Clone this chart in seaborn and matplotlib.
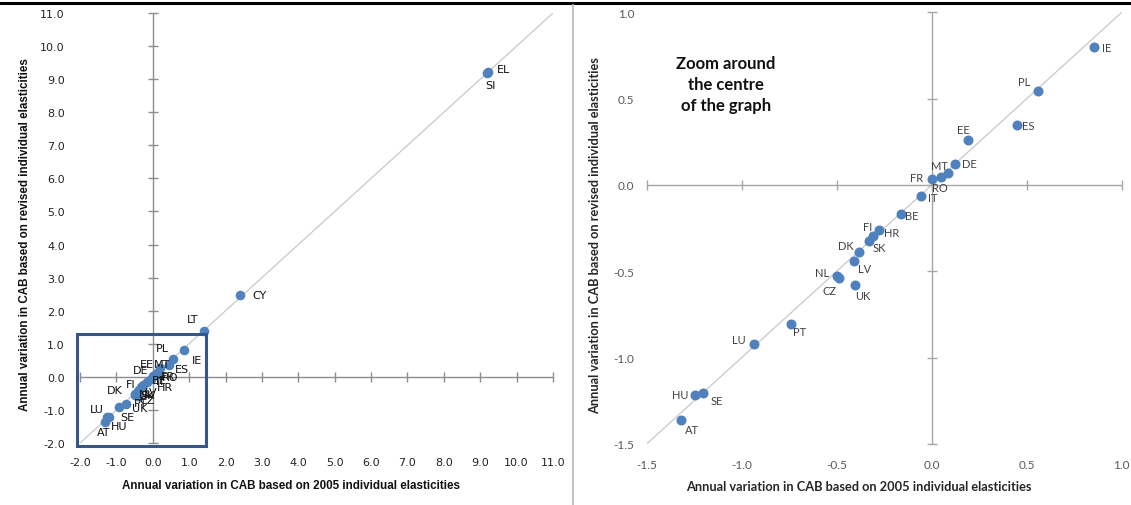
import matplotlib
matplotlib.use("Agg")
import matplotlib.pyplot as plt
from matplotlib.lines import Line2D
from matplotlib.patches import Rectangle
import numpy as np
import pandas as pd
import seaborn as sns

# ---------------- data ----------------
countries = ['EL', 'SI', 'CY', 'LT', 'IE', 'PL', 'ES', 'EE', 'DE', 'MT', 'RO', 'FR', 'IT', 'BE',
             'HR', 'FI', 'SK', 'DK', 'LV', 'NL', 'CZ', 'UK', 'PT', 'LU', 'SE', 'HU', 'AT']
cab_2005 = [9.21, 9.19, 2.40, 1.40, 0.855, 0.561, 0.449, 0.192, 0.125, 0.086, 0.049, 0.004, -0.057, -0.161,
            -0.276, -0.310, -0.328, -0.384, -0.411, -0.496, -0.490, -0.403, -0.743, -0.935, -1.202, -1.246, -1.319]
cab_revised = [9.22, 9.19, 2.47, 1.39, 0.797, 0.545, 0.350, 0.261, 0.124, 0.069, 0.047, 0.034, -0.062, -0.170,
               -0.261, -0.297, -0.325, -0.388, -0.443, -0.530, -0.540, -0.579, -0.806, -0.920, -1.204, -1.214, -1.363]

left_ticks = list(np.arange(-2, 12, 1.0))
right_ticks = [-1.5, -1.0, -0.5, 0.0, 0.5, 1.0]
zoom_box = (-2.08, -2.09, 1.45, 1.29)  # x0, y0, x1, y1 in left-panel data units

x_title = "Annual variation in CAB based on 2005 individual elasticities"
y_title = "Annual variation in CAB based on revised individual elasticities"
zoom_note = "Zoom around\nthe centre\nof the graph"

# label offsets (pixels: dx right, dy down)
left_off = {'EL': (16, -3), 'SI': (3, 12), 'CY': (19, 0), 'LT': (-11, -12), 'PL': (-11, -11),
            'IE': (13, 10), 'ES': (13, 4), 'EE': (-13, -4), 'MT': (6, -11), 'DE': (-17, -3),
            'FR': (15, 0), 'RO': (16, 2), 'BE': (12, -2), 'IT': (10, 2), 'HR': (22, 2),
            'FI': (-11, -3), 'SK': (7, 7), 'DK': (-24, 0), 'LV': (13, 1), 'NL': (11, 0),
            'CZ': (12, 5), 'PT': (15, -1), 'UK': (2, 12), 'LU': (-22, 2), 'SE': (18, 0),
            'HU': (12, 9), 'AT': (-1, 10)}
right_off = {'IE': (13, 0), 'PL': (-14, -9), 'ES': (11, 1), 'EE': (-5, -10), 'DE': (14, 0),
             'MT': (-9, -8), 'FR': (-16, -2), 'RO': (-1, 11), 'IT': (12, 2), 'BE': (11, 1),
             'FI': (-5, -10), 'HR': (12, 2), 'SK': (10, 6), 'DK': (-13, -6), 'LV': (11, 7),
             'NL': (-15, -4), 'CZ': (-9, 12), 'UK': (8, 11), 'PT': (9, 7), 'LU': (-15, -4),
             'HU': (-15, 0), 'SE': (14, 8), 'AT': (11, 9)}

df = pd.DataFrame({'country': countries, 'x': cab_2005, 'y': cab_revised})

# ---------------- style ----------------
sns.set_theme(style="white")
plt.rcParams['font.family'] = ['DejaVu Sans']

W, H = 1131, 506
fig = plt.figure(figsize=(W / 100, H / 100), dpi=100)

dot_color = '#4F81BD'


def px_axes(x0, y0, x1, y1):
    return fig.add_axes([x0 / W, 1 - y1 / H, (x1 - x0) / W, (y1 - y0) / H])


def panel(ax, lim, ticks, axis_color, tick_font, tick_color, tick_size, tick_pad_x, tick_pad_y):
    ax.set_xlim(*lim)
    ax.set_ylim(*lim)
    for s in ax.spines.values():
        s.set_visible(False)
    ax.set_facecolor('none')
    ax.axline((0, 0), slope=1, color='#C8C8C8', lw=0.9, zorder=1)
    ax.axhline(0, color=axis_color, lw=1.0, zorder=1)
    ax.axvline(0, color=axis_color, lw=1.0, zorder=1)
    ax.plot(ticks, [0] * len(ticks), linestyle='none', marker='|', markersize=7,
            markeredgewidth=1.0, color=axis_color, zorder=1, clip_on=False)
    ax.plot([0] * len(ticks), ticks, linestyle='none', marker='_', markersize=7,
            markeredgewidth=1.0, color=axis_color, zorder=1, clip_on=False)
    ax.set_xticks(ticks)
    ax.set_yticks(ticks)
    ax.set_xticklabels([f"{t:.1f}" for t in ticks])
    ax.set_yticklabels([f"{t:.1f}" for t in ticks])
    ax.tick_params(axis='both', length=0, labelsize=tick_size, labelcolor=tick_color)
    ax.tick_params(axis='x', pad=tick_pad_x)
    ax.tick_params(axis='y', pad=tick_pad_y)
    for lab in ax.get_xticklabels() + ax.get_yticklabels():
        lab.set_fontfamily(tick_font)
    ax.set_xlabel('')
    ax.set_ylabel('')


# ---------------- left panel ----------------
axL = px_axes(80, 14, 553, 444)
panel(axL, (-2, 11), left_ticks, '#8C8C8C', 'DejaVu Sans', '#222222', 8.0, 10, 11)
sns.scatterplot(data=df, x='x', y='y', ax=axL, color=dot_color, s=48, linewidth=0, zorder=3)
axL.set_xlabel(''); axL.set_ylabel('')
for c, xv, yv in zip(countries, cab_2005, cab_revised):
    dx, dy = left_off[c]
    axL.annotate(c, (xv, yv), xytext=(dx, -dy), textcoords='offset pixels', ha='center',
                 va='center', fontsize=8.0, color='#111111', family='DejaVu Sans', zorder=4)
bx0, by0, bx1, by1 = zoom_box
axL.add_patch(Rectangle((bx0, by0), bx1 - bx0, by1 - by0, fill=False, edgecolor='#34568B',
                        lw=2.2, clip_on=False, zorder=5))

# ---------------- right panel ----------------
axR = px_axes(646.7, 13.4, 1121.7, 444.9)
panel(axR, (-1.5, 1.0), right_ticks, '#A6A6A6', 'Lato', '#595959', 8.5, 11, 9)
sns.scatterplot(data=df, x='x', y='y', ax=axR, color=dot_color, s=52, linewidth=0, zorder=3)
axR.set_xlabel(''); axR.set_ylabel('')
for c, xv, yv in zip(countries, cab_2005, cab_revised):
    if c not in right_off:
        continue
    dx, dy = right_off[c]
    axR.annotate(c, (xv, yv), xytext=(dx, -dy), textcoords='offset pixels', ha='center',
                 va='center', fontsize=8.0, color='#404040', family='Lato', zorder=4)

# ---------------- titles & decorations ----------------
fig.text(291 / W, 1 - 486 / H, x_title, ha='center', va='center', fontsize=8.4,
         fontweight='bold', family='Liberation Sans', color='#111111')
fig.text(25 / W, 1 - 235 / H, y_title, ha='center', va='center', rotation=90, fontsize=8.4,
         fontweight='bold', family='Liberation Sans', color='#111111')
fig.text(859 / W, 1 - 487 / H, x_title, ha='center', va='center', fontsize=9.2,
         fontweight='bold', family='Lato', color='#262626')
fig.text(595 / W, 1 - 236 / H, y_title, ha='center', va='center', rotation=90, fontsize=9.2,
         fontweight='bold', family='Lato', color='#262626')
fig.text(726 / W, 1 - 85 / H, zoom_note, ha='center', va='center', fontsize=12,
         fontweight='bold', family='Lato', color='#111111', linespacing=1.35)

fig.add_artist(Line2D([0, 1], [1 - 4 / H, 1 - 4 / H], color='black', lw=2.2,
                      transform=fig.transFigure))
fig.add_artist(Line2D([573 / W, 573 / W], [0, 1 - 6 / H], color='#C4C4C4', lw=1.5,
                      transform=fig.transFigure))

fig.savefig('out.png', dpi=100)
